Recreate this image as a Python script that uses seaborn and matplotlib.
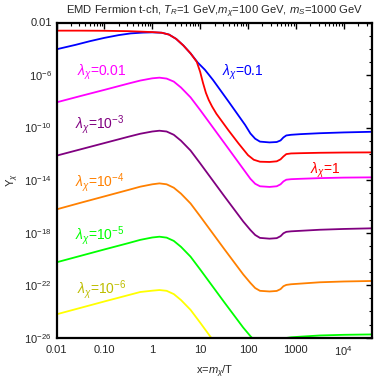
import numpy as np
import pandas as pd
import matplotlib
matplotlib.use("Agg")
import matplotlib.pyplot as plt
import seaborn as sns
from matplotlib.ticker import FixedLocator, NullFormatter

# ---- data (log10 x, log10 Y) ----
blue_lx = [-2.0, -1.6, -1.3, -1.0, -0.7, -0.45, -0.2, 0.0, 0.2, 0.35, 0.5, 0.65, 0.8, 0.95, 1.1, 1.27, 1.6, 1.94, 2.05, 2.15, 2.25, 2.45, 2.6, 2.68, 2.74, 2.8, 2.9, 3.1, 3.5, 4.0, 4.6]
blue_ly = [-4.04, -3.7, -3.42, -3.17, -2.96, -2.83, -2.77, -2.75, -2.78, -2.92, -3.25, -3.75, -4.35, -5.05, -5.6, -6.38, -8.05, -9.8, -10.45, -10.85, -11.07, -11.13, -11.1, -10.98, -10.75, -10.6, -10.55, -10.5, -10.43, -10.37, -10.32]

red_lx = [-2.0, -1.5, -1.0, -0.5, -0.2, 0.0, 0.2, 0.35, 0.5, 0.65, 0.8, 0.93, 1.0, 1.06, 1.12, 1.18, 1.25, 1.34, 1.59, 1.8, 2.0, 2.12, 2.25, 2.45, 2.6, 2.68, 2.74, 2.8, 2.9, 3.1, 3.5, 4.0, 4.6]
red_ly = [-2.62, -2.62, -2.63, -2.66, -2.7, -2.73, -2.78, -2.92, -3.25, -3.75, -4.35, -5.0, -5.75, -6.6, -7.35, -7.9, -8.4, -8.95, -10.2, -11.2, -12.1, -12.45, -12.6, -12.62, -12.57, -12.42, -12.2, -12.02, -11.97, -11.95, -11.92, -11.9, -11.89]

mag_lx = [-2.0, -1.5, -1.0, -0.5, -0.25, 0.0, 0.15, 0.3, 0.45, 0.6, 0.8, 1.0, 1.5, 1.9, 2.05, 2.15, 2.25, 2.45, 2.6, 2.68, 2.74, 2.8, 2.9, 3.1, 3.5, 4.0, 4.6]
mag_ly = [-8.08, -7.6, -7.13, -6.65, -6.42, -6.25, -6.2, -6.27, -6.5, -6.95, -7.7, -8.66, -11.15, -13.15, -13.9, -14.28, -14.47, -14.52, -14.47, -14.32, -14.1, -13.97, -13.93, -13.9, -13.85, -13.81, -13.79]

pur_lx = [-2.0, -1.5, -1.0, -0.5, -0.25, 0.0, 0.15, 0.3, 0.45, 0.6, 0.8, 1.0, 1.5, 1.9, 2.05, 2.15, 2.25, 2.45, 2.6, 2.68, 2.74, 2.8, 2.9, 3.1, 3.5, 4.0, 4.6]
pur_ly = [-12.14, -11.66, -11.18, -10.7, -10.47, -10.3, -10.24, -10.3, -10.55, -11.0, -11.75, -12.72, -15.2, -17.15, -17.8, -18.18, -18.4, -18.46, -18.42, -18.27, -18.05, -17.94, -17.9, -17.86, -17.78, -17.72, -17.67]

ora_lx = [-2.0, -1.5, -1.0, -0.5, -0.25, 0.0, 0.15, 0.3, 0.45, 0.6, 0.8, 1.0, 1.5, 1.9, 2.05, 2.15, 2.25, 2.45, 2.6, 2.68, 2.74, 2.8, 2.9, 3.1, 3.5, 4.0, 4.6]
ora_ly = [-16.23, -15.73, -15.24, -14.75, -14.5, -14.32, -14.25, -14.32, -14.58, -15.03, -15.78, -16.75, -19.23, -21.18, -21.83, -22.22, -22.43, -22.48, -22.44, -22.3, -22.08, -21.98, -21.93, -21.88, -21.78, -21.72, -21.68]

grn_lx = [-2.0, -1.5, -1.0, -0.5, -0.25, 0.0, 0.15, 0.3, 0.45, 0.6, 0.8, 1.0, 1.5, 1.9, 2.05, 2.15, 2.25, 2.45, 2.6, 2.68, 2.74, 2.8, 2.9, 3.1, 3.5, 4.0, 4.6]
grn_ly = [-20.26, -19.77, -19.28, -18.8, -18.55, -18.37, -18.31, -18.38, -18.63, -19.08, -19.83, -20.8, -23.28, -25.23, -25.88, -26.27, -26.48, -26.52, -26.48, -26.34, -26.12, -26.02, -25.97, -25.92, -25.83, -25.78, -25.75]

yel_lx = [-2.0, -1.5, -1.0, -0.5, -0.25, 0.0, 0.15, 0.3, 0.45, 0.6, 0.8, 1.0, 1.3]
yel_ly = [-24.22, -23.73, -23.24, -22.76, -22.52, -22.42, -22.37, -22.43, -22.68, -23.13, -23.88, -24.85, -26.35]

labels = [r"$\lambda_\chi$=0.1", r"$\lambda_\chi$=1", r"$\lambda_\chi$=0.01", r"$\lambda_\chi$=$10^{-3}$",
          r"$\lambda_\chi$=$10^{-4}$", r"$\lambda_\chi$=$10^{-5}$", r"$\lambda_\chi$=$10^{-6}$"]
label_lx = [1.455, 3.30, -1.58, -1.62, -1.62, -1.62, -1.58]
label_ly = [-5.77, -13.23, -5.77, -9.8, -14.15, -18.26, -22.3]

xtick_vals = [0.01, 0.1, 1, 10, 100, 1000, 1e4]
xtick_labels = ["0.01", "0.10", "1", "10", "100", "1000", r"$10^4$"]
ytick_vals = [1e-2, 1e-6, 1e-10, 1e-14, 1e-18, 1e-22, 1e-26]
ytick_labels = ["0.01", r"$10^{-6}$", r"$10^{-10}$", r"$10^{-14}$", r"$10^{-18}$", r"$10^{-22}$", r"$10^{-26}$"]

colors = ["#0000FF", "#FF0000", "#FF00FF", "#800080", "#FF8000", "#00FF00", "#FFFF00"]
label_colors = ["#0000FF", "#FF0000", "#FF00FF", "#800080", "#FF8000", "#00FF00", "#BDBD00"]

series = [(blue_lx, blue_ly), (red_lx, red_ly), (mag_lx, mag_ly), (pur_lx, pur_ly),
          (ora_lx, ora_ly), (grn_lx, grn_ly), (yel_lx, yel_ly)]

sns.set_style("white")
plt.rcParams['font.family'] = ['Liberation Sans', 'DejaVu Sans']
plt.rcParams['mathtext.fontset'] = 'custom'
plt.rcParams['mathtext.rm'] = 'Liberation Sans'
plt.rcParams['mathtext.it'] = 'Liberation Sans:italic'

fig = plt.figure(figsize=(3.78, 3.81), dpi=100)
ax = fig.add_axes([56.5/378, 1-337.7/381, (372-56.5)/378, (337.7-22.5)/381])

for i, (lx, ly) in enumerate(series):
    n = min(len(lx), len(ly))
    df = pd.DataFrame({"x": np.power(10.0, lx[:n]), "y": np.power(10.0, ly[:n])})
    sns.lineplot(data=df, x="x", y="y", ax=ax, color=colors[i], lw=1.3, sort=False,
                 estimator=None, legend=False)

ax.set_xscale("log")
ax.set_yscale("log")
ax.set_xlim(0.01, 10**4.59)
ax.set_ylim(1e-26, 1e-2)

for t, lx, ly, c in zip(labels, label_lx, label_ly, label_colors):
    ax.text(10**lx, 10**ly, t, color=c, fontsize=10, ha="left", va="center")

ax.xaxis.set_major_locator(FixedLocator(xtick_vals))
ax.set_xticklabels(xtick_labels)
minx = [m * 10.0**e for e in range(-2, 5) for m in range(2, 10)]
ax.xaxis.set_minor_locator(FixedLocator(minx))
ax.xaxis.set_minor_formatter(NullFormatter())
ax.yaxis.set_major_locator(FixedLocator(ytick_vals))
ax.set_yticklabels(ytick_labels)
miny = [10.0**e for e in range(-26, -1)]
ax.yaxis.set_minor_locator(FixedLocator(miny))
ax.yaxis.set_minor_formatter(NullFormatter())

ax.tick_params(which="both", direction="in", top=True, right=True, color="black", labelsize=8)
ax.tick_params(which="major", length=4, width=1.0)
ax.tick_params(which="minor", length=2.2, width=0.8)
ax.tick_params(axis="x", pad=5)
for s in ax.spines.values():
    s.set_color("black")
    s.set_linewidth(1.6)

ax.set_xlabel(r"x=$m_\chi$/T", fontsize=8, labelpad=4)
ax.set_ylabel(r"Y$_\chi$", fontsize=8, labelpad=2)
ax.set_title(r"EMD Fermion t-ch, $T_R$=1 GeV,$m_\chi$=100 GeV, $m_S$=1000 GeV", fontsize=8.1, pad=6)

fig.savefig("out.png", dpi=100)
